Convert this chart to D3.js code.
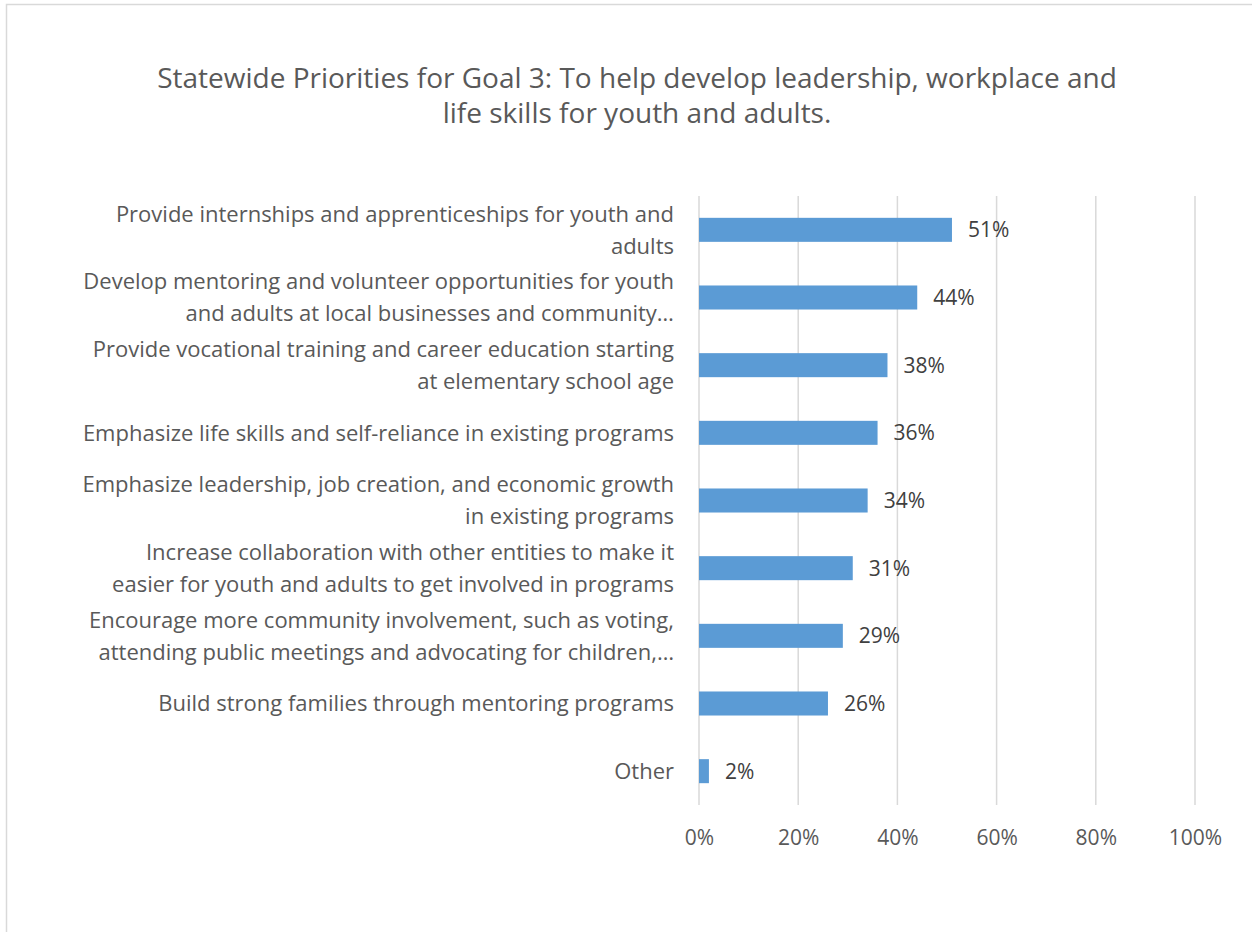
<!DOCTYPE html>
<html>
<head>
<meta charset="utf-8">
<script src="https://cdn.jsdelivr.net/npm/d3@7"></script>
<style>
  html, body { margin: 0; padding: 0; background: #fff; }
  svg { display: block; }
</style>
</head>
<body>
<svg id="chart" width="1252" height="932"></svg>
<script>
// Survey priorities (share of respondents), top to bottom
const categories = [
  ["Provide internships and apprenticeships for youth and", "adults"],
  ["Develop mentoring and volunteer opportunities for youth", "and adults at local businesses and community\u2026"],
  ["Provide vocational training and career education starting", "at elementary school age"],
  ["Emphasize life skills and self-reliance in existing programs"],
  ["Emphasize leadership, job creation, and economic growth", "in existing programs"],
  ["Increase collaboration with other entities to make it", "easier for youth and adults to get involved in programs"],
  ["Encourage more community involvement, such as voting,", "attending public meetings and advocating for children,\u2026"],
  ["Build strong families through mentoring programs"],
  ["Other"]
];
const values = [51, 44, 38, 36, 34, 31, 29, 26, 2];
const tickValues = [0, 20, 40, 60, 80, 100];
const titleLines = [
  "Statewide Priorities for Goal 3: To help develop leadership, workplace and",
  "life skills for youth and adults."
];

const FONT = "'Open Sans', Lato, sans-serif";
const TEXT = "#595959";

const svg = d3.select("#chart");

// chart area frame
svg.append("rect")
  .attr("x", 6.5).attr("y", 4.5)
  .attr("width", 1300).attr("height", 1000)
  .attr("fill", "#fff")
  .attr("stroke", "#d9d9d9").attr("stroke-width", 1.5);

// title
svg.append("text")
  .attr("font-family", FONT)
  .attr("font-size", 28)
  .attr("fill", TEXT)
  .attr("text-anchor", "middle")
  .selectAll("tspan")
  .data(titleLines)
  .join("tspan")
  .attr("x", 637)
  .attr("y", (d, i) => 88 + i * 35)
  .text(d => d);

const plot = { left: 699, right: 1195, top: 196, bottom: 805 };

const x = d3.scaleLinear().domain([0, 100]).range([plot.left, plot.right]);
const y = d3.scaleBand()
  .domain(d3.range(categories.length))
  .range([plot.top, plot.bottom])
  .paddingInner(0.645)
  .paddingOuter(0.3225);

// vertical gridlines
svg.append("g")
  .selectAll("line")
  .data(tickValues)
  .join("line")
  .attr("x1", d => x(d)).attr("x2", d => x(d))
  .attr("y1", plot.top).attr("y2", plot.bottom)
  .attr("stroke", "#d9d9d9")
  .attr("stroke-width", 1.5);

// x axis labels
const xAxis = d3.axisBottom(x)
  .tickValues(tickValues)
  .tickFormat(d => d + "%")
  .tickSize(0)
  .tickPadding(25);

const gx = svg.append("g")
  .attr("transform", `translate(0,${plot.bottom})`)
  .call(xAxis);
gx.select(".domain").remove();
gx.selectAll("text")
  .attr("font-family", FONT)
  .attr("font-size", 21)
  .attr("fill", TEXT);

// bars
svg.append("g")
  .selectAll("rect")
  .data(values)
  .join("rect")
  .attr("x", x(0))
  .attr("y", (d, i) => y(i))
  .attr("width", d => x(d) - x(0))
  .attr("height", y.bandwidth())
  .attr("fill", "#5b9bd5");

// value labels
svg.append("g")
  .selectAll("text")
  .data(values)
  .join("text")
  .attr("x", d => x(d) + 16)
  .attr("y", (d, i) => y(i) + y.bandwidth() / 2)
  .attr("dy", "0.35em")
  .attr("font-family", FONT)
  .attr("font-size", 21)
  .attr("fill", "#404040")
  .text(d => d + "%");

// category labels (wrapped, right aligned)
const lineH = 32;
const catG = svg.append("g");
categories.forEach((lines, i) => {
  const cy = y(i) + y.bandwidth() / 2;
  const t = catG.append("text")
    .attr("font-family", FONT)
    .attr("font-size", 22)
    .attr("fill", TEXT)
    .attr("text-anchor", "end");
  lines.forEach((ln, j) => {
    t.append("tspan")
      .attr("x", 674)
      .attr("y", cy + (j - (lines.length - 1) / 2) * lineH)
      .attr("dy", "0.35em")
      .text(ln);
  });
});
</script>
</body>
</html>
